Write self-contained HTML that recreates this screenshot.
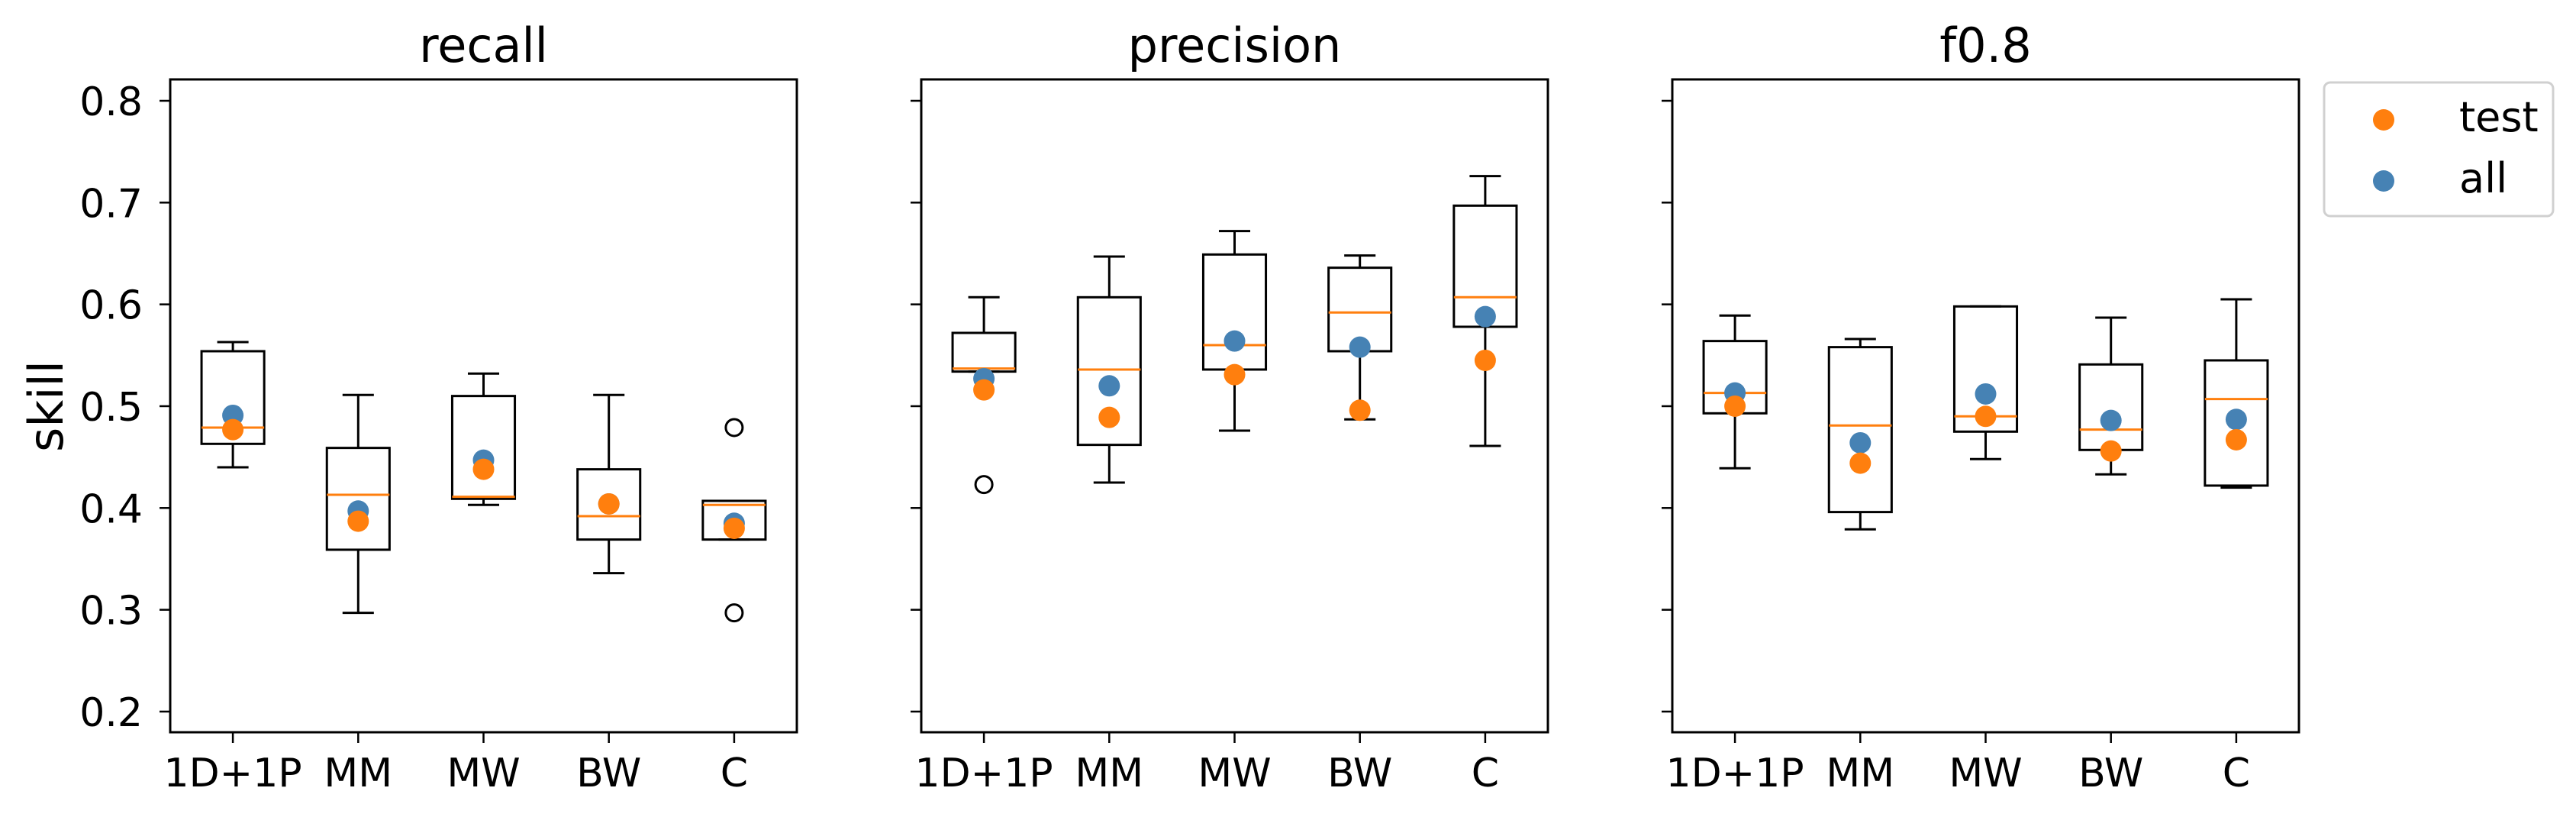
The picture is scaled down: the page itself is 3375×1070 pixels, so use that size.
<!DOCTYPE html>
<html><head><meta charset="utf-8"><style>
html,body{margin:0;padding:0;background:#fff;}
svg{display:block;font-family:"DejaVu Sans","Liberation Sans",sans-serif;}
</style></head><body>
<svg id="chart" width="3375" height="1070" viewBox="0 0 3375 1070" xmlns="http://www.w3.org/2000/svg"></svg>
<script>
const categories = ["1D+1P","MM","MW","BW","C"];
const panelTitles = ["recall","precision","f0.8"];
const yTicks = [0.2,0.3,0.4,0.5,0.6,0.7,0.8];
const yTickLabels = ["0.2","0.3","0.4","0.5","0.6","0.7","0.8"];
// box stats per panel: [whislo,q1,med,q3,whishi]
const recallBoxes = [[0.440,0.463,0.479,0.554,0.563],[0.297,0.359,0.413,0.459,0.511],[0.403,0.409,0.411,0.510,0.532],[0.336,0.369,0.392,0.438,0.511],[0.369,0.369,0.403,0.407,0.407]];
const precisionBoxes = [[0.534,0.534,0.537,0.572,0.607],[0.425,0.462,0.536,0.607,0.647],[0.476,0.536,0.560,0.649,0.672],[0.487,0.554,0.592,0.636,0.648],[0.461,0.578,0.607,0.697,0.726]];
const f08Boxes = [[0.439,0.493,0.513,0.564,0.589],[0.379,0.396,0.481,0.558,0.566],[0.448,0.475,0.490,0.598,0.598],[0.433,0.457,0.477,0.541,0.587],[0.420,0.422,0.507,0.545,0.605]];
const recallFliers = [[],[],[],[],[0.479,0.297]];
const precisionFliers = [[0.423],[],[],[],[]];
const f08Fliers = [[],[],[],[],[]];
const recallAll = [0.491,0.397,0.447,0.404,0.385];
const recallTest = [0.477,0.387,0.438,0.404,0.380];
const precisionAll = [0.527,0.520,0.564,0.558,0.588];
const precisionTest = [0.516,0.489,0.531,0.496,0.545];
const f08All = [0.513,0.464,0.512,0.486,0.487];
const f08Test = [0.500,0.444,0.490,0.456,0.467];

const NS="http://www.w3.org/2000/svg";
const svg=document.getElementById('chart');
function mk(tag,attrs,parent){const e=document.createElementNS(NS,tag);for(const k in attrs)e.setAttribute(k,attrs[k]);(parent||svg).appendChild(e);return e;}
const TOP=104,BOT=959,YMIN=0.1797,YMAX=0.821;
function yScale(v){return BOT-(v-YMIN)/(YMAX-YMIN)*(BOT-TOP);}
const panelLefts=[223,1207,2191];
const PW=821;
function xScale(left,i){return left+(i+1-0.5)/5*PW;}
const boxesAll=[recallBoxes,precisionBoxes,f08Boxes];
const fliersAll=[recallFliers,precisionFliers,f08Fliers];
const allS=[recallAll,precisionAll,f08All];
const testS=[recallTest,precisionTest,f08Test];
const unit=PW/5;

panelTitles.forEach((title,p)=>{
  const L=panelLefts[p];
  const g=mk('g',{});
  
  
  const t=mk('text',{x:L+PW/2,y:81,'text-anchor':'middle','font-size':62},g);
  t.textContent=title;
  
  
  yTicks.forEach((v,k)=>{
    const y=yScale(v);
    mk('line',{x1:L-14,x2:L,y1:y,y2:y,stroke:'#000','stroke-width':2.5},g);
    if(p===0){
      const tl=mk('text',{x:L-36,y:y+19,'text-anchor':'end','font-size':52},g);
      tl.textContent=yTickLabels[k];
      
      
    }
  });
  categories.forEach((c,i)=>{
    const x=xScale(L,i);
    mk('line',{x1:x,x2:x,y1:BOT,y2:BOT+14,stroke:'#000','stroke-width':2.5},g);
    const xl=mk('text',{x:x,y:1030,'text-anchor':'middle','font-size':52},g);
    xl.textContent=c;
    
    
    const b=boxesAll[p][i];
    const bw=unit*0.5, cw=unit*0.25;
    const bg=mk('g',{stroke:'#000','stroke-width':3,fill:'none'},g);
    
    
    mk('line',{x1:x,x2:x,y1:yScale(b[0]),y2:yScale(b[1])},bg);
    mk('line',{x1:x,x2:x,y1:yScale(b[3]),y2:yScale(b[4])},bg);
    mk('line',{x1:x-cw/2,x2:x+cw/2,y1:yScale(b[0]),y2:yScale(b[0])},bg);
    mk('line',{x1:x-cw/2,x2:x+cw/2,y1:yScale(b[4]),y2:yScale(b[4])},bg);
    mk('rect',{x:x-bw/2,y:yScale(b[3]),width:bw,height:yScale(b[1])-yScale(b[3])},bg);
    mk('line',{x1:x-bw/2,x2:x+bw/2,y1:yScale(b[2]),y2:yScale(b[2]),stroke:'#ff7f0e'},bg);
    fliersAll[p][i].forEach(f=>{
      const fc=mk('circle',{cx:x,cy:yScale(f),r:11,fill:'none',stroke:'#000','stroke-width':3},g);
      
      
    });
    const a=mk('circle',{cx:x,cy:yScale(allS[p][i]),r:14,fill:'#4682b4'},g);
    
    
    const tt=mk('circle',{cx:x,cy:yScale(testS[p][i]),r:14,fill:'#ff7f0e'},g);
    
    
  });
  const fr=mk('rect',{x:L,y:TOP,width:PW,height:BOT-TOP,fill:'none',stroke:'#000','stroke-width':3},g);
  
  
});
const yl=mk('text',{x:0,y:0,'text-anchor':'middle','font-size':62,transform:'translate(82,532) rotate(-90)'});
yl.textContent='skill';


// legend
const lg=mk('g',{});


mk('rect',{x:3045,y:108,width:300,height:175,rx:8,fill:'#fff',stroke:'#d0d0d0','stroke-width':3},lg);
const le1=mk('circle',{cx:3123,cy:157,r:14,fill:'#ff7f0e'},lg);


const lt1=mk('text',{x:3222,y:172,'font-size':54},lg);lt1.textContent='test';
const le2=mk('circle',{cx:3123,cy:237,r:14,fill:'#4682b4'},lg);


const lt2=mk('text',{x:3222,y:252,'font-size':54},lg);lt2.textContent='all';
</script>
</body></html>
